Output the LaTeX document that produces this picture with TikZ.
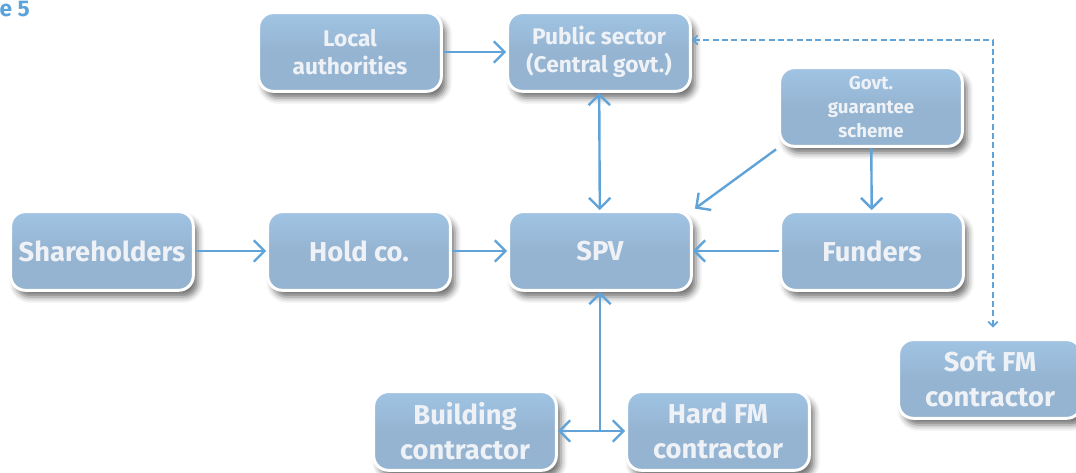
\documentclass[tikz,border=0pt]{standalone}
\usepackage{fontspec}
\setmainfont{Fira Sans}
\usetikzlibrary{arrows.meta,shadows.blur}
\definecolor{boxblue}{RGB}{148,180,209}
\definecolor{boxtop}{RGB}{161,196,228}
\definecolor{boxtext}{RGB}{238,241,246}
\definecolor{linkblue}{RGB}{95,163,216}
\definecolor{figblue}{RGB}{91,163,219}

\begin{document}
\begin{tikzpicture}[x=0.75pt,y=-0.75pt,>={Straight Barb[length=8pt,width=16pt]},
 box/.style={draw=white,line width=2.2pt,rounded corners=11pt,top color=boxtop,bottom color=boxblue,
  middle color=boxblue,text=boxtext,
  minimum width=137pt,minimum height=59pt,align=center,inner sep=2pt,
  blur shadow={shadow xshift=3.5pt,shadow yshift=-5pt,shadow blur radius=4.5pt,shadow opacity=55}},
 bigtext/.style={font=\bfseries\fontsize{20.5}{26}\selectfont},
 midtext/.style={font=\bfseries\fontsize{17}{21}\selectfont},
 smalltext/.style={font=\bfseries\fontsize{14}{18}\selectfont},
 link/.style={draw=linkblue,line width=1.8pt},
 dotlink/.style={draw=linkblue,line width=1.3pt,dash pattern=on 4.5pt off 2.5pt,
  {Straight Barb[length=3.5pt,width=7pt]}-{Straight Barb[length=3.5pt,width=7pt]}}]
\useasboundingbox (0,0) rectangle (1076,473);
\node[font=\bfseries\fontsize{17}{19}\selectfont,text=figblue,anchor=base west] (fig) at (-5,17) {e 5};
% top row
\node[box,midtext] (local) at (350,52) {Local\\authorities};
\node[box,midtext] (pub) at (599,52) {Public sector\\(Central govt.)};
\node[box,smalltext] (gov) at (871,107) {Govt.\\guarantee\\scheme};
% middle row
\node[box,bigtext] (share) at (102,251) {Shareholders};
\node[box,bigtext] (hold) at (359,251) {Hold co.};
\node[box,bigtext] (spv) at (600,251) {SPV};
\node[box,bigtext] (fund) at (872,251) {Funders};
% contractors
\node[box,bigtext] (soft) at (990,379) {Soft FM\\contractor};
\node[box,bigtext] (build) at (465,431) {Building\\contractor};
\node[box,bigtext] (hard) at (718,431) {Hard FM\\contractor};
\coordinate (corner) at (993,40);
\draw[link,->] (local) -- (pub);
\draw[link,<->] (pub) -- (spv);
\draw[link,->,shorten <=2pt,shorten >=2pt] (gov.south west) -- (spv.north east);
\draw[link,->] (gov) -- (fund);
\draw[link,->] (share) -- (hold);
\draw[link,->] (hold) -- (spv);
\draw[link,->] (fund) -- (spv);
\draw[link,<-] (spv) -- (spv |- build);
\draw[link,<->] (build) -- (hard);
\draw[dotlink] (pub.east |- corner) -- (corner) -- ([yshift=8pt]soft.north -| corner);
\end{tikzpicture}
\end{document}
